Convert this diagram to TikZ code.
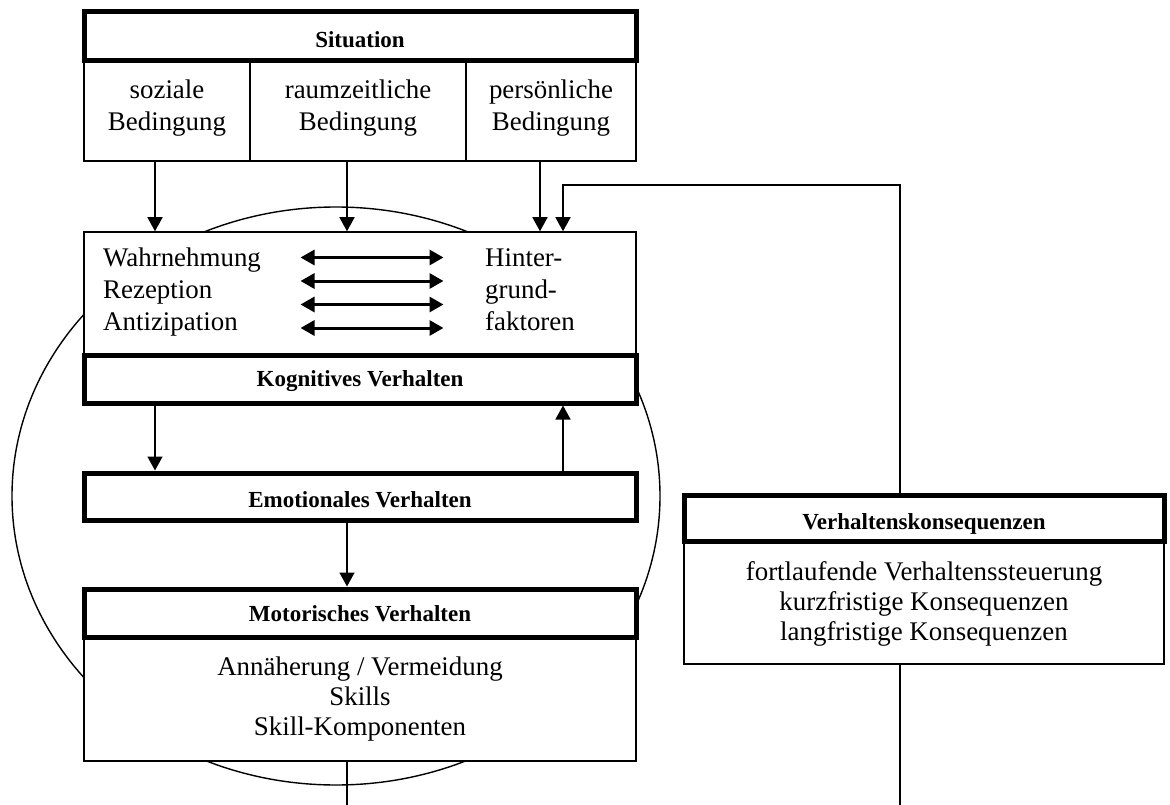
\documentclass[tikz,border=0pt]{standalone}
\usepackage{fontspec}
\setmainfont{Liberation Serif}
\usetikzlibrary{arrows.meta}

\tikzset{
  x=1pt, y=-1pt,
  thinbox/.style={draw, line width=1.5pt, fill=white, inner sep=0pt},
  thickbox/.style={draw, line width=5pt, fill=white, inner sep=0pt},
  body/.style={inner sep=0pt, anchor=base, font=\fontsize{26.9pt}{32pt}\selectfont},
  bodyleft/.style={body, anchor=base west},
  head/.style={inner sep=0pt, anchor=base, font=\fontsize{23pt}{28pt}\selectfont\bfseries},
  arr/.style={line width=1.5pt, -{Triangle[length=14pt,width=15pt]}},
  plain/.style={line width=1.5pt},
  darr/.style={line width=3pt, {Triangle[length=14pt,width=15pt]}-{Triangle[length=14pt,width=15pt]}},
  loop/.style={line width=1.4pt}
}

\begin{document}
\begin{tikzpicture}
\useasboundingbox (0,0) rectangle (1170,805);

% the behaviour cycle behind the left column
\draw[loop] (336,496) ellipse [x radius=324pt, y radius=289pt];

% thin content boxes
\node[thinbox, minimum width=166pt, minimum height=100.5pt] (soz)  at (167,110.75) {};
\node[thinbox, minimum width=216pt, minimum height=100.5pt] (raum) at (358,110.75) {};
\node[thinbox, minimum width=170pt, minimum height=100.5pt] (pers) at (551,110.75) {};
\node[thinbox, minimum width=552pt, minimum height=123pt]   (wahr) at (360,293.5) {};
\node[thinbox, minimum width=552pt, minimum height=124pt]   (motc) at (360,699) {};
\node[thinbox, minimum width=480pt, minimum height=122.5pt] (vkc)  at (924,602.75) {};

% thick header boxes
\node[thickbox, minimum width=552pt, minimum height=49pt]   (sit) at (360,36) {};
\node[thickbox, minimum width=552pt, minimum height=48pt]   (kog) at (360,379) {};
\node[thickbox, minimum width=552pt, minimum height=47pt]   (emo) at (360,496.5) {};
\node[thickbox, minimum width=552pt, minimum height=48pt]   (mot) at (360,613) {};
\node[thickbox, minimum width=480pt, minimum height=46.5pt] (vk)  at (924,518.25) {};

% headings
\node[head] (tsit) at (360,48)    {Situation};
\node[head] (tkog) at (360,386.5) {Kognitives Verhalten};
\node[head] (temo) at (360,507)   {Emotionales Verhalten};
\node[head] (tmot) at (360,621.5) {Motorisches Verhalten};
\node[head] (tvk)  at (924,529)   {Verhaltenskonsequenzen};

% conditions
\node[body] (soz1)  at (167,99)  {soziale};
\node[body] (soz2)  at (167,131) {Bedingung};
\node[body] (raum1) at (358,99)  {raumzeitliche};
\node[body] (raum2) at (358,131) {Bedingung};
\node[body] (pers1) at (551,99)  {persönliche};
\node[body] (pers2) at (551,131) {Bedingung};

% perception and background factors
\node[bodyleft] (w1) at (103,266.5) {Wahrnehmung};
\node[bodyleft] (w2) at (103,298)   {Rezeption};
\node[bodyleft] (w3) at (103,330)   {Antizipation};
\node[bodyleft] (h1) at (485,266.5) {Hinter-};
\node[bodyleft] (h2) at (485,298)   {grund-};
\node[bodyleft] (h3) at (485,330)   {faktoren};

% motor behaviour
\node[body] (m1) at (360,675) {Annäherung / Vermeidung};
\node[body] (m2) at (360,705) {Skills};
\node[body] (m3) at (360,735) {Skill-Komponenten};

% consequences
\node[body] (k1) at (924,580) {fortlaufende Verhaltenssteuerung};
\node[body] (k2) at (924,610) {kurzfristige Konsequenzen};
\node[body] (k3) at (924,640) {langfristige Konsequenzen};

% interaction arrows
\foreach \i/\yy in {1/257.5, 2/281, 3/304.5, 4/328}{
  \coordinate (la\i) at (300.5,\yy);
  \coordinate (ra\i) at (443.5,\yy);
  \draw[darr] (la\i) -- (ra\i);
}

% flow between the boxes
\draw[arr] ([xshift=-12pt]soz.south)  -- ([xshift=-12pt]soz.south |- wahr.north);
\draw[arr] ([xshift=-11pt]raum.south) -- ([xshift=-11pt]raum.south |- wahr.north);
\draw[arr] ([xshift=-11pt]pers.south) -- ([xshift=-11pt]pers.south |- wahr.north);

\coordinate (fbturn) at (900,185);
\draw[arr] ([xshift=-24pt]vk.north) -- (fbturn) -| ([xshift=203pt]wahr.north);

\draw[arr] ([xshift=-205pt]kog.south) -- ([xshift=-205pt]emo.north);
\draw[arr] ([xshift=203pt]emo.north)  -- ([xshift=203pt]kog.south);
\draw[arr] ([xshift=-13pt]emo.south)  -- ([xshift=-13pt]mot.north);

\coordinate (outA) at (347,805);
\coordinate (outB) at (900,805);
\draw[plain] ([xshift=-13pt]motc.south) -- (outA);
\draw[plain] ([xshift=-24pt]vkc.south)  -- (outB);
\end{tikzpicture}
\end{document}
